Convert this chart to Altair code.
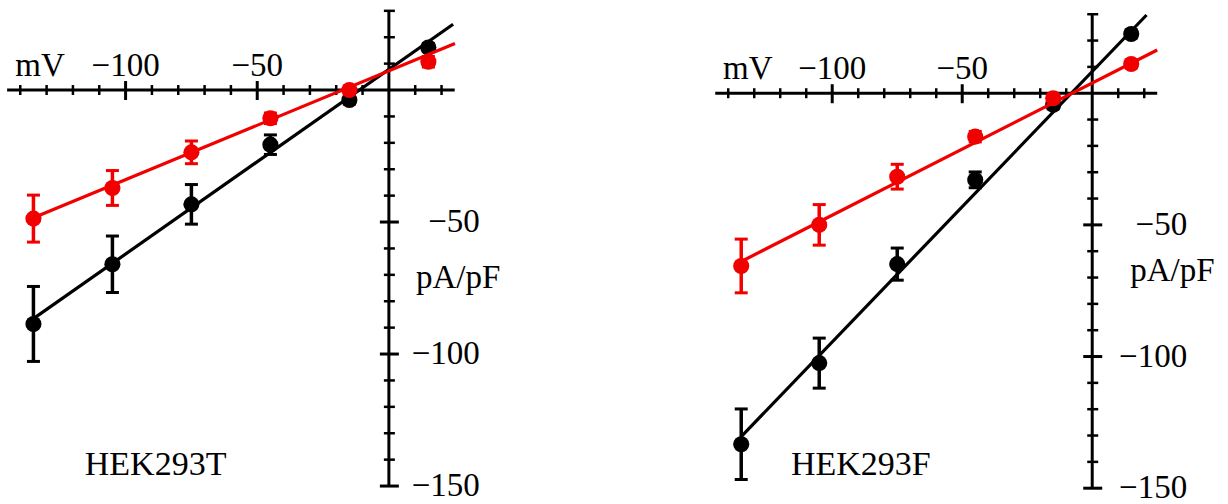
import altair as alt
import pandas as pd

# ---------------- data ----------------
volts = [-135, -105, -75, -45, -15, 15]

# HEK293T
t_black = [-88.6, -66.0, -43.3, -20.7, -3.8, 16.1]
t_black_se = [14.2, 10.7, 7.5, 3.7, 1.5, 1.5]
t_red = [-48.7, -37.1, -23.6, -10.7, 0.0, 10.7]
t_red_se = [8.9, 6.6, 4.3, 2.0, 1.5, 2.0]
t_black_fit_x = [-135, 24.4]
t_black_fit_y = [-86.6, 24.9]
t_red_fit_x = [-135, 25.1]
t_red_fit_y = [-48.4, 17.6]

# HEK293F
f_black = [-133.3, -102.5, -64.9, -32.9, -4.4, 22.5]
f_black_se = [13.4, 9.5, 6.1, 3.0, 1.5, 1.5]
f_red = [-65.6, -50.0, -31.7, -16.5, -1.9, 11.1]
f_red_se = [10.2, 7.7, 4.7, 2.0, 1.5, 1.5]
f_black_fit_x = [-135, 20.9]
f_black_fit_y = [-130.4, 29.7]
f_red_fit_x = [-135, 25.0]
f_red_fit_y = [-63.9, 16.4]

# axes
x_axis_range = [-145, 25]
y_axis_range = [-150, 30]
x_minor = [-140, -130, -120, -110, -90, -80, -70, -60, -40, -30, -20, -10, 10, 20]
x_major = [-100, -50]
x_labels = ["\u2212100", "\u221250"]
y_minor = [30, 20, 10, -10, -20, -30, -40, -60, -70, -80, -90, -110, -120, -130, -140]
y_major = [-50, -100, -150]
y_labels = ["\u221250", "\u2212100", "\u2212150"]

BLACK = "#000000"
RED = "#f20000"
FONT = "Liberation Serif"
FS = 33
FS_NAME = 34


def panel(black, black_se, red, red_se, bfx, bfy, rfx, rfy, name,
          xdom, ydom, width, height, ylab_dx, unit_dx, unit_y, name_x, name_y):
    xs = alt.Scale(domain=xdom, nice=False, zero=False)
    ys = alt.Scale(domain=ydom, nice=False, zero=False)

    def X(f):
        return alt.X(f, type="quantitative", scale=xs, axis=None)

    def Y(f):
        return alt.Y(f, type="quantitative", scale=ys, axis=None)

    layers = []

    # axis lines
    xline = pd.DataFrame({"x": [x_axis_range[0]], "x2": [x_axis_range[1]], "y": [0]})
    layers.append(alt.Chart(xline).mark_rule(color=BLACK, strokeWidth=3).encode(
        x=X("x"), x2="x2", y=Y("y")))
    yline = pd.DataFrame({"x": [0], "y": [y_axis_range[0]], "y2": [y_axis_range[1]]})
    layers.append(alt.Chart(yline).mark_rule(color=BLACK, strokeWidth=3).encode(
        x=X("x"), y=Y("y"), y2="y2"))

    # x ticks
    xmin_df = pd.DataFrame({"v": x_minor, "z": [0] * len(x_minor)})
    layers.append(alt.Chart(xmin_df).mark_rule(color=BLACK, strokeWidth=2.5,
                                               yOffset=-5, y2Offset=5).encode(
        x=X("v"), y=Y("z"), y2="z"))
    xmaj_df = pd.DataFrame({"v": x_major, "z": [0] * len(x_major), "t": x_labels})
    layers.append(alt.Chart(xmaj_df).mark_rule(color=BLACK, strokeWidth=3,
                                               yOffset=-9, y2Offset=10).encode(
        x=X("v"), y=Y("z"), y2="z"))
    layers.append(alt.Chart(xmaj_df).mark_text(font=FONT, fontSize=FS, color=BLACK,
                                               align="center", baseline="alphabetic",
                                               dy=-14).encode(
        x=X("v"), y=Y("z"), text="t:N"))

    # y ticks
    ymin_df = pd.DataFrame({"v": y_minor, "z": [0] * len(y_minor)})
    layers.append(alt.Chart(ymin_df).mark_rule(color=BLACK, strokeWidth=2.5,
                                               xOffset=-5, x2Offset=6).encode(
        y=Y("v"), x=X("z"), x2="z"))
    ymaj_df = pd.DataFrame({"v": y_major, "z": [0] * len(y_major), "t": y_labels})
    layers.append(alt.Chart(ymaj_df).mark_rule(color=BLACK, strokeWidth=3,
                                               xOffset=-9, x2Offset=10).encode(
        y=Y("v"), x=X("z"), x2="z"))
    layers.append(alt.Chart(ymaj_df).mark_text(font=FONT, fontSize=FS, color=BLACK,
                                               align="right", baseline="alphabetic",
                                               dx=ylab_dx, dy=10).encode(
        y=Y("v"), x=X("z"), text="t:N"))

    # axis titles and panel name
    txt = pd.DataFrame({
        "x": [-132.5, 0, name_x],
        "y": [0, unit_y, name_y],
        "t": ["mV", "pA/pF", name],
    })
    layers.append(alt.Chart(txt.iloc[[0]]).mark_text(
        font=FONT, fontSize=FS, color=BLACK, align="center", baseline="alphabetic", dy=-14
    ).encode(x=X("x"), y=Y("y"), text="t:N"))
    layers.append(alt.Chart(txt.iloc[[1]]).mark_text(
        font=FONT, fontSize=FS, color=BLACK, align="left", baseline="alphabetic", dx=unit_dx
    ).encode(x=X("x"), y=Y("y"), text="t:N"))
    layers.append(alt.Chart(txt.iloc[[2]]).mark_text(
        font=FONT, fontSize=FS_NAME, color=BLACK, align="center", baseline="alphabetic"
    ).encode(x=X("x"), y=Y("y"), text="t:N"))

    # data series: black first, red on top
    for vals, se, fx, fy, col in [(black, black_se, bfx, bfy, BLACK),
                                  (red, red_se, rfx, rfy, RED)]:
        fit = pd.DataFrame({"x": fx, "y": fy})
        layers.append(alt.Chart(fit).mark_line(color=col, strokeWidth=3.2).encode(
            x=X("x"), y=Y("y")))
        d = pd.DataFrame({"x": volts, "y": vals, "se": se})
        d["lo"] = d["y"] - d["se"]
        d["hi"] = d["y"] + d["se"]
        layers.append(alt.Chart(d).mark_rule(color=col, strokeWidth=3.5).encode(
            x=X("x"), y=Y("lo"), y2="hi"))
        for end in ["lo", "hi"]:
            layers.append(alt.Chart(d).mark_rule(color=col, strokeWidth=3,
                                                 xOffset=-6.5, x2Offset=6.5).encode(
                x=X("x"), x2="x", y=Y(end)))
        layers.append(alt.Chart(d).mark_circle(color=col, size=260, opacity=1).encode(
            x=X("x"), y=Y("y")))

    return alt.layer(*layers).properties(width=width, height=height)


left = panel(t_black, t_black_se, t_red, t_red_se,
             t_black_fit_x, t_black_fit_y, t_red_fit_x, t_red_fit_y, "HEK293T",
             xdom=[-147.7, 49.8], ydom=[-156.8, 34.1], width=520, height=504,
             ylab_dx=91, unit_dx=27, unit_y=-75, name_x=-88.6, name_y=-145.8)
right = panel(f_black, f_black_se, f_red, f_red_se,
              f_black_fit_x, f_black_fit_y, f_red_fit_x, f_red_fit_y, "HEK293F",
              xdom=[-149.7, 50.3], ydom=[-156.0, 35.4], width=520, height=504,
              ylab_dx=95, unit_dx=38, unit_y=-71.5, name_x=-89, name_y=-145)

chart = alt.hconcat(left, right, spacing=183, bounds="flush").properties(
    padding=0, background="white"
).configure_view(stroke=None)

chart.save("out.html", embed_options={"renderer": "svg", "actions": False})
